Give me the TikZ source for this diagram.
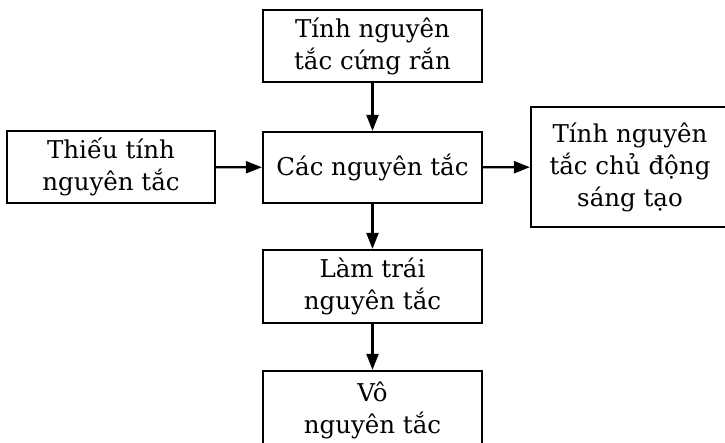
\documentclass[tikz,border=0pt]{standalone}
\usepackage{fontspec}
\setmainfont{DejaVu Serif}
\usetikzlibrary{arrows.meta}
\begin{document}
\begin{tikzpicture}[x=1pt,y=-1pt,
  box/.style={draw, line width=2.2pt, align=center, inner sep=0pt,
    font=\fontsize{24.5}{32}\selectfont},
  arr/.style={line width=2.2pt, -{Triangle[length=16pt,width=12pt]}}]
\useasboundingbox (0,0) rectangle (725,442);
\clip (0,0) rectangle (725,442);
\fill[white] (0,0) rectangle (725,442);
\node[box, minimum width=219pt, minimum height=72pt] (top) at (372.5,46) {Tính nguyên\\tắc cứng rắn};
\node[box, minimum width=219pt, minimum height=71pt] (mid) at (372.5,167.5) {Các nguyên tắc};
\node[box, minimum width=208pt, minimum height=72pt] (left) at (111,167) {Thiếu tính\\nguyên tắc};
\node[box, minimum width=198pt, minimum height=120pt] (right) at (630,167) {Tính nguyên\\tắc chủ động\\sáng tạo};
\node[box, minimum width=219pt, minimum height=73pt] (lam) at (372.5,286.5) {Làm trái\\nguyên tắc};
\node[box, minimum width=219pt, minimum height=78pt] (vo) at (372.5,410) {Vô\\nguyên tắc};
\draw[arr] (top) -- (mid);
\draw[arr] (left) -- (mid);
\draw[arr] (mid) -- (right);
\draw[arr] (mid) -- (lam);
\draw[arr] (lam) -- (vo);
\end{tikzpicture}
\end{document}
